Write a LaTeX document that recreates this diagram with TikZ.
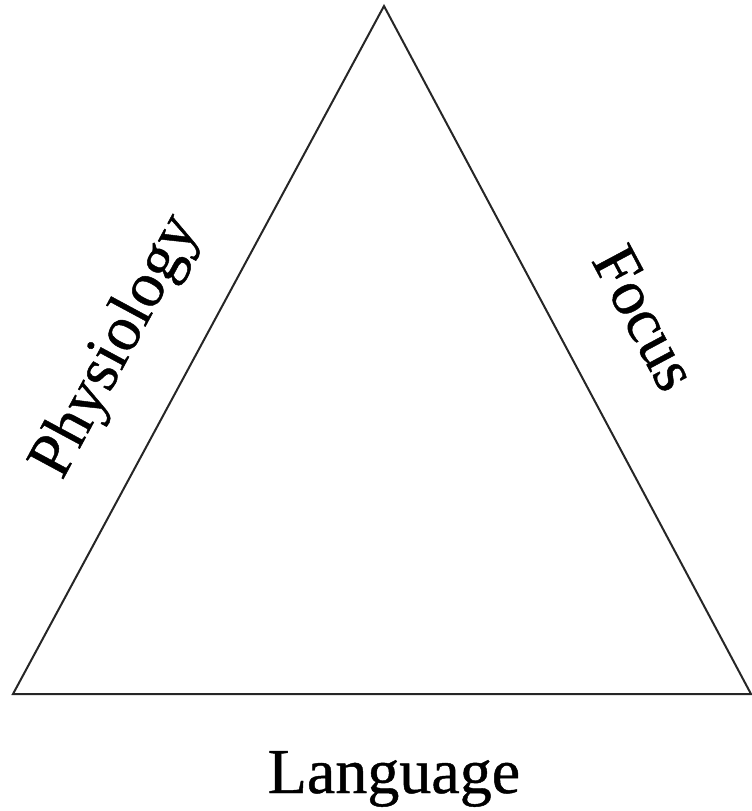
\documentclass[tikz,border=0pt]{standalone}
\usepackage{fontspec}
\setmainfont[FakeBold=0.7]{Liberation Serif}
\usepackage{tikz}
\usetikzlibrary{calc}

\begin{document}
\begin{tikzpicture}[
  x=1pt, y=-1pt,
  side/.style={draw=black!85, line width=2pt, line join=miter},
  lbl/.style={font=\fontsize{64}{72}\selectfont, inner sep=0pt}]
  \useasboundingbox (0,0) rectangle (752,811);
  \coordinate (apex) at (384,6);
  \coordinate (bl) at (13,694);
  \coordinate (br) at (751,694);
  \draw[side] (apex) -- (br) -- (bl) -- cycle;
  \node[lbl, rotate=61.7] (phys) at (117,347) {Physiology};
  \node[lbl, rotate=-61.9] (focus) at (645,318) {Focus};
  \node[lbl, anchor=base] (lang) at (394,793) {Language};
\end{tikzpicture}
\end{document}
